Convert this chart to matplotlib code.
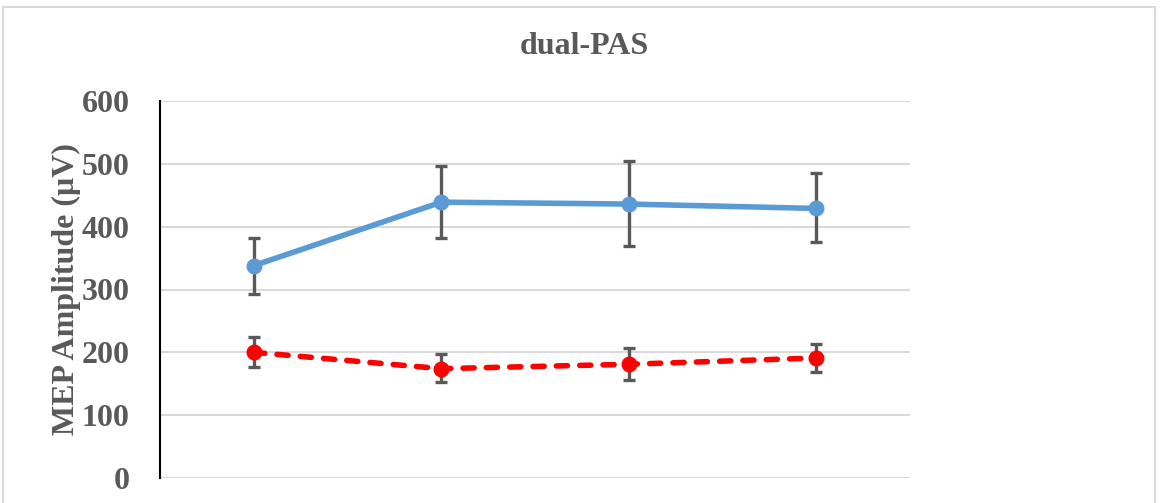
import matplotlib
matplotlib.use("Agg")
import matplotlib.pyplot as plt
from matplotlib.patches import Rectangle

title = "dual-PAS"
ylabel = "MEP Amplitude (\u03bcV)"
categories = ["T1", "T2", "T3", "T4"]
blue_vals = [338, 439, 436, 429]
blue_err_lo = [293, 382, 370, 375]
blue_err_hi = [382, 496, 504, 485]
red_vals = [200, 174, 181, 191]
red_err_lo = [177, 152, 156, 168]
red_err_hi = [225, 198, 207, 214]
yticks = [0, 100, 200, 300, 400, 500, 600]

plt.rcParams['font.family'] = ['Liberation Serif', 'DejaVu Serif']

fig = plt.figure(figsize=(11.6, 5.03), dpi=100)
fig.patches.append(Rectangle((3/1160, -0.2), 1152/1160, 1.2 - 7/503, transform=fig.transFigure,
                             fill=False, edgecolor='#D9D9D9', linewidth=1.5))
ax = fig.add_axes([160/1160, 1-478/503, 750/1160, 377/503])

x = [i + 0.5 for i in range(len(categories))]
gray = '#595959'

def errs(vals, lo, hi):
    return [[v - l for v, l in zip(vals, lo)], [h - v for v, h in zip(vals, hi)]]

ax.errorbar(x, blue_vals, yerr=errs(blue_vals, blue_err_lo, blue_err_hi), fmt='none',
            ecolor=gray, elinewidth=2.4, capsize=4.5, capthick=2.4, zorder=2)
ax.errorbar(x, red_vals, yerr=errs(red_vals, red_err_lo, red_err_hi), fmt='none',
            ecolor=gray, elinewidth=2.4, capsize=4.5, capthick=2.4, zorder=2)
ax.plot(x, blue_vals, color='#5B9BD5', linewidth=4.0, marker='o', markersize=10.5,
        solid_capstyle='round', zorder=3)
ax.plot(x, red_vals, color='#FF0000', linewidth=4.0, linestyle=(0, (2.0, 2.2)),
        dash_capstyle='round', marker='o', markersize=10.5, zorder=3)

ax.set_xlim(0, 4)
ax.set_ylim(0, 600)
ax.set_yticks(yticks)
ax.set_xticks([])
ax.yaxis.grid(True, color='#D9D9D9', linewidth=1.5)
ax.set_axisbelow(True)
for s in ['top', 'right', 'bottom']:
    ax.spines[s].set_visible(False)
ax.spines['left'].set_color('black')
ax.spines['left'].set_linewidth(1.5)
ax.tick_params(axis='y', length=0, pad=22, labelsize=23, labelcolor=gray)
for lab in ax.get_yticklabels():
    lab.set_fontweight('bold')
ax.set_ylabel(ylabel, fontsize=23, fontweight='bold', color=gray, labelpad=0)
fig.text(584/1160, 1-46/503, title, ha='center', va='center', fontsize=23,
         fontweight='bold', color=gray)

fig.savefig('out.png', dpi=100)
